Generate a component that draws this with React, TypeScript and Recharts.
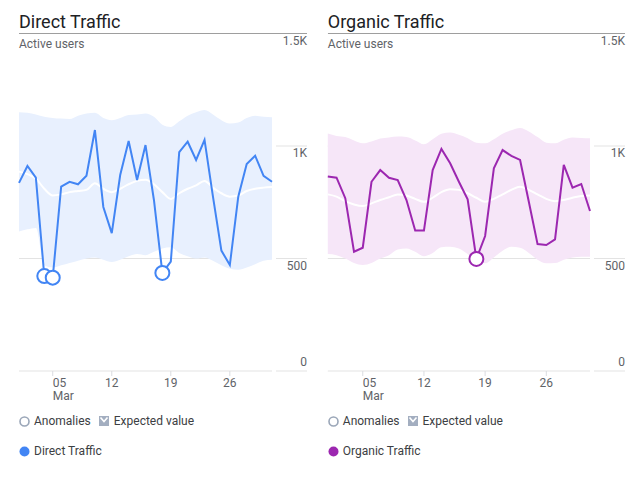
import { Area, CartesianGrid, ComposedChart, Line, XAxis, YAxis } from "recharts";

const DAYS = [
  1, 2, 3, 4, 5, 6, 7, 8, 9, 10, 11, 12, 13, 14, 15, 16, 17, 18, 19, 20, 21,
  22, 23, 24, 25, 26, 27, 28, 29, 30, 31,
];
const TICK_DAYS = [5, 12, 19, 26];
const TICK_LABELS = ["05", "12", "19", "26"];
const MONTH_LABEL = "Mar";
const Y_TICKS = [0, 500, 1000, 1500];
const Y_LABELS = ["0", "500", "1K", "1.5K"];

const DIRECT_ACTUAL = [
  836, 911, 859, 422, 415, 819, 841, 830, 868, 1071, 729, 613, 871, 1022, 849,
  1004, 760, 436, 486, 973, 1019, 938, 1027, 775, 535, 471, 775, 920, 957, 867,
  841,
];
const DIRECT_EXPECTED = [
  886, 875, 855, 810, 780, 785, 795, 800, 805, 835, 810, 795, 810, 830, 845,
  850, 830, 795, 765, 790, 810, 825, 845, 815, 790, 775, 780, 800, 810, 815,
  818,
];
const DIRECT_LOW = [
  620, 630, 636, 470, 460, 470, 480, 490, 500, 505, 495, 485, 495, 510, 520,
  515, 530, 545, 550, 525, 510, 500, 505, 490, 470, 455, 450, 460, 475, 490,
  495,
];
const DIRECT_HIGH = [
  1150, 1148, 1140, 1130, 1125, 1122, 1120, 1135, 1145, 1148, 1125, 1115, 1125,
  1138, 1140, 1145, 1130, 1095, 1085, 1110, 1135, 1150, 1160, 1140, 1115, 1100,
  1105, 1125, 1135, 1130, 1128,
];
const DIRECT_ANOMALIES = [4, 5, 18];

const ORGANIC_ACTUAL = [
  864, 859, 768, 530, 548, 841, 893, 859, 849, 760, 624, 624, 893, 987, 923,
  841, 763, 498, 600, 901, 982, 956, 938, 752, 564, 560, 585, 916, 815, 831,
  711,
];
const ORGANIC_EXPECTED = [
  785, 775, 755, 740, 733, 745, 760, 772, 785, 780, 765, 752, 770, 795, 808,
  805, 790, 770, 752, 765, 785, 805, 819, 805, 785, 765, 755, 760, 770, 778,
  780,
];
const ORGANIC_LOW = [
  520, 515, 500, 480, 471, 480, 500, 515, 540, 545, 530, 510, 525, 550, 552,
  545, 520, 490, 479, 505, 535, 552, 548, 525, 495, 479, 480, 495, 505, 508,
  508,
];
const ORGANIC_HIGH = [
  1056, 1045, 1040, 1025, 1012, 1020, 1033, 1038, 1042, 1040, 1025, 1008, 1030,
  1055, 1060, 1050, 1035, 1015, 1012, 1030, 1055, 1070, 1080, 1065, 1040, 1015,
  1012, 1028, 1038, 1036, 1035,
];
const ORGANIC_ANOMALIES = [18];

const FONT = "Roboto, Arial, sans-serif";
const CHART_H = 410;
const AXIS_W = 35;

type PanelProps = {
  title: string;
  seriesName: string;
  color: string;
  bandColor: string;
  actual: number[];
  expected: number[];
  low: number[];
  high: number[];
  anomalies: number[];
  left: number;
  width: number;
  marginLeft: number;
  marginRight: number;
};

function Panel(p: PanelProps) {
  const rows = DAYS.map((day, i) => ({
    day,
    actual: p.actual[i],
    expected: p.expected[i],
    band: [p.low[i], p.high[i]],
  }));
  const labelRight = p.width - p.marginRight;
  const plotRight = labelRight - AXIS_W;

  const yTick = (props: any) => {
    const v = props.payload.value;
    const label = Y_LABELS[Y_TICKS.indexOf(v)];
    const dy = v === 0 ? -5 : 11;
    return (
      <g>
        {v !== 1500 && (
          <line x1={plotRight + 4} x2={labelRight} y1={props.y} y2={props.y} stroke="#e3e3e3" />
        )}
        <text x={labelRight} y={props.y + dy} textAnchor="end" fontSize={12} fill="#5f6368" fontFamily={FONT}>
          {label}
        </text>
      </g>
    );
  };

  const xTick = (props: any) => {
    const v = props.payload.value;
    const idx = TICK_DAYS.indexOf(v);
    const first = idx === 0;
    return (
      <g>
        <line x1={props.x} x2={props.x} y1={props.y} y2={props.y + 5} stroke="#dadce0" />
        <text x={props.x} y={props.y + 15.5} textAnchor={first ? "start" : "middle"} fontSize={12} fill="#5f6368" fontFamily={FONT}>
          {TICK_LABELS[idx]}
        </text>
        {first && (
          <text x={props.x} y={props.y + 29} textAnchor="start" fontSize={12} fill="#5f6368" fontFamily={FONT}>
            {MONTH_LABEL}
          </text>
        )}
      </g>
    );
  };

  const dot = (props: any) => {
    const { cx, cy, payload } = props;
    if (!p.anomalies.includes(payload.day)) return <g key={`d${payload.day}`} />;
    return (
      <circle key={`d${payload.day}`} cx={cx} cy={cy} r={7} fill="#fff" stroke={p.color} strokeWidth={2} />
    );
  };

  return (
    <div style={{ position: "absolute", left: p.left, top: 0, width: p.width, height: 484 }}>
      <div style={{ position: "absolute", left: 0, top: 0 }}>
        <ComposedChart
          width={p.width}
          height={CHART_H}
          data={rows}
          margin={{ top: 33.5, right: p.marginRight, bottom: 4, left: p.marginLeft }}
        >
          <CartesianGrid vertical={false} stroke="#e3e3e3" />
          <XAxis
            dataKey="day"
            type="number"
            domain={[1, 31]}
            ticks={TICK_DAYS}
            interval={0}
            axisLine={false}
            tickLine={false}
            tickSize={0}
            tickMargin={0}
            height={35}
            tick={xTick}
          />
          <YAxis
            orientation="right"
            domain={[0, 1500]}
            ticks={Y_TICKS}
            axisLine={false}
            tickLine={false}
            tickSize={0}
            tickMargin={0}
            width={AXIS_W}
            tick={yTick}
          />
          <Area
            type="monotone"
            dataKey="band"
            stroke="none"
            fill={p.bandColor}
            fillOpacity={1}
            isAnimationActive={false}
          />
          <Line
            type="monotone"
            dataKey="expected"
            stroke="#ffffff"
            strokeWidth={2}
            dot={false}
            isAnimationActive={false}
          />
          <Line
            type="linear"
            dataKey="actual"
            stroke={p.color}
            strokeWidth={2}
            dot={dot}
            activeDot={false}
            isAnimationActive={false}
          />
        </ComposedChart>
      </div>
      <div
        style={{
          position: "absolute",
          left: p.marginLeft,
          top: 12,
          fontSize: 18,
          lineHeight: "20px",
          color: "#202124",
          whiteSpace: "nowrap",
        }}
      >
        {p.title}
      </div>
      <div
        style={{
          position: "absolute",
          left: p.marginLeft,
          top: 33,
          width: labelRight - p.marginLeft,
          height: 1,
          background: "#9e9e9e",
        }}
      />
      <div
        style={{
          position: "absolute",
          left: p.marginLeft,
          top: 37,
          fontSize: 12,
          lineHeight: "14px",
          color: "#5f6368",
        }}
      >
        Active users
      </div>
      <div
        style={{
          position: "absolute",
          left: p.marginLeft,
          top: 414,
          display: "flex",
          alignItems: "center",
          fontSize: 12,
          lineHeight: "14px",
          color: "#3c4043",
          whiteSpace: "nowrap",
        }}
      >
        <svg width={11} height={11} style={{ marginRight: 4 }}>
          <circle cx={5.5} cy={5.5} r={4.5} fill="none" stroke="#9aa6b8" strokeWidth={1.6} />
        </svg>
        <span>Anomalies</span>
        <svg width={10} height={10} style={{ marginLeft: 8, marginRight: 5 }}>
          <rect x={0} y={0} width={10} height={10} fill="#a3aec0" />
          <polyline points="1.5,1.5 5,5.5 8.5,1.5" fill="none" stroke="#fff" strokeWidth={1.6} />
        </svg>
        <span>Expected value</span>
      </div>
      <div
        style={{
          position: "absolute",
          left: p.marginLeft,
          top: 444,
          display: "flex",
          alignItems: "center",
          fontSize: 12,
          lineHeight: "14px",
          color: "#3c4043",
          whiteSpace: "nowrap",
        }}
      >
        <svg width={11} height={11} style={{ marginRight: 4 }}>
          <circle cx={5.5} cy={5.5} r={5} fill={p.color} />
        </svg>
        <span>{p.seriesName}</span>
      </div>
    </div>
  );
}

export default function App() {
  return (
    <div
      style={{
        position: "absolute",
        left: 0,
        top: 0,
        width: 643,
        height: 484,
        background: "#fff",
        fontFamily: FONT,
      }}
    >
      <Panel
        title="Direct Traffic"
        seriesName="Direct Traffic"
        color="#4285f4"
        bandColor="#e8f0fe"
        actual={DIRECT_ACTUAL}
        expected={DIRECT_EXPECTED}
        low={DIRECT_LOW}
        high={DIRECT_HIGH}
        anomalies={DIRECT_ANOMALIES}
        left={0}
        width={320}
        marginLeft={19}
        marginRight={13}
      />
      <Panel
        title="Organic Traffic"
        seriesName="Organic Traffic"
        color="#9c27b0"
        bandColor="#f6e6f8"
        actual={ORGANIC_ACTUAL}
        expected={ORGANIC_EXPECTED}
        low={ORGANIC_LOW}
        high={ORGANIC_HIGH}
        anomalies={ORGANIC_ANOMALIES}
        left={320}
        width={323}
        marginLeft={7.8}
        marginRight={18}
      />
    </div>
  );
}
